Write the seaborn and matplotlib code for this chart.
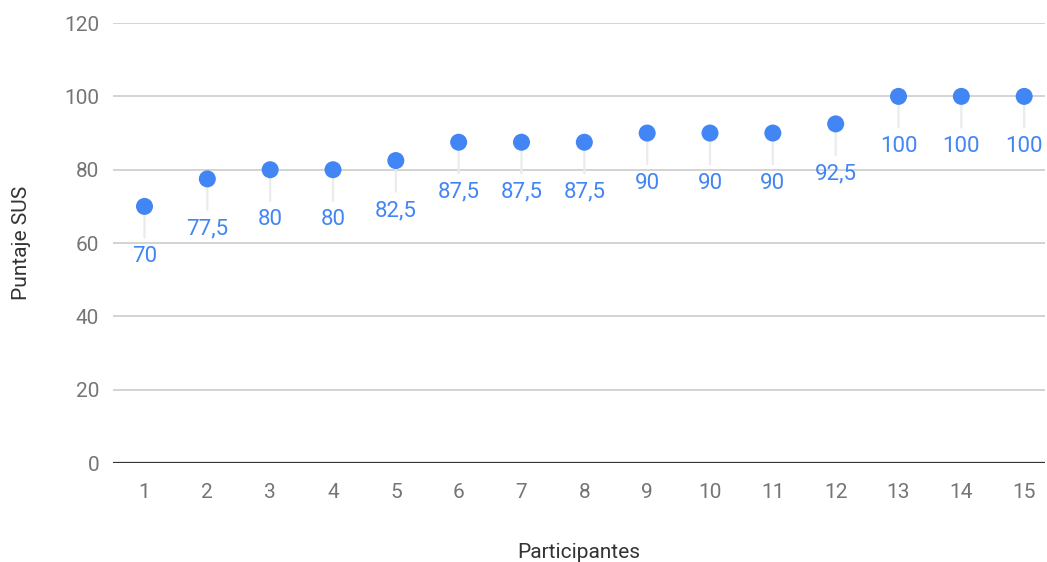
import matplotlib.pyplot as plt
import pandas as pd
import seaborn as sns

PARTICIPANTES = list(range(1, 16))
PUNTAJES = [70, 77.5, 80, 80, 82.5, 87.5, 87.5, 87.5, 90, 90, 90, 92.5, 100, 100, 100]
ETIQUETAS = ["70", "77,5", "80", "80", "82,5", "87,5", "87,5", "87,5",
             "90", "90", "90", "92,5", "100", "100", "100"]
Y_TICKS = [0, 20, 40, 60, 80, 100, 120]

BLUE = "#4285F4"
GRAY_TEXT = "#757575"


def main() -> None:
    sns.set_theme(style="white")
    plt.rcParams["font.family"] = ["Roboto", "DejaVu Sans"]

    df = pd.DataFrame({"Participante": PARTICIPANTES, "Puntaje": PUNTAJES})

    fig = plt.figure(figsize=(10.47, 5.62), dpi=100)
    ax = fig.add_axes([0.108, 0.176, 0.89, 0.783])

    sns.scatterplot(data=df, x="Participante", y="Puntaje", s=150,
                    color=BLUE, edgecolor="none", zorder=5, ax=ax)

    # etiquetas bajo cada punto con su linea guia
    for x, y, lab in zip(df["Participante"], df["Puntaje"], ETIQUETAS):
        ax.annotate(lab, xy=(x, y), xytext=(0, -36), textcoords="offset points",
                    ha="center", va="center", fontsize=16, color=BLUE,
                    arrowprops=dict(arrowstyle="-", color="#ebebeb", lw=1.6,
                                    shrinkA=6, shrinkB=0, relpos=(0.5, 1.0),
                                    patchA=None),
                    zorder=3)

    ax.set_xlim(0.5, 15.33)
    ax.set_ylim(0, 120)
    ax.set_yticks(Y_TICKS)
    ax.set_xticks(PARTICIPANTES)
    ax.yaxis.grid(True, color="#cccccc", linewidth=1.2)
    ax.set_axisbelow(True)
    ax.axhline(0, color="#333333", linewidth=1.6, zorder=2)

    for side in ["top", "right", "left", "bottom"]:
        ax.spines[side].set_visible(False)

    ax.tick_params(axis="both", length=0, labelsize=15, colors=GRAY_TEXT)
    ax.tick_params(axis="x", pad=14)
    ax.tick_params(axis="y", pad=10)

    ax.set_xlabel("Participantes", fontsize=15, color="#333333", labelpad=30)
    ax.set_ylabel("Puntaje SUS", fontsize=15, color="#333333", labelpad=24)

    fig.savefig("out.png", dpi=100)
    plt.close(fig)


if __name__ == "__main__":
    main()
